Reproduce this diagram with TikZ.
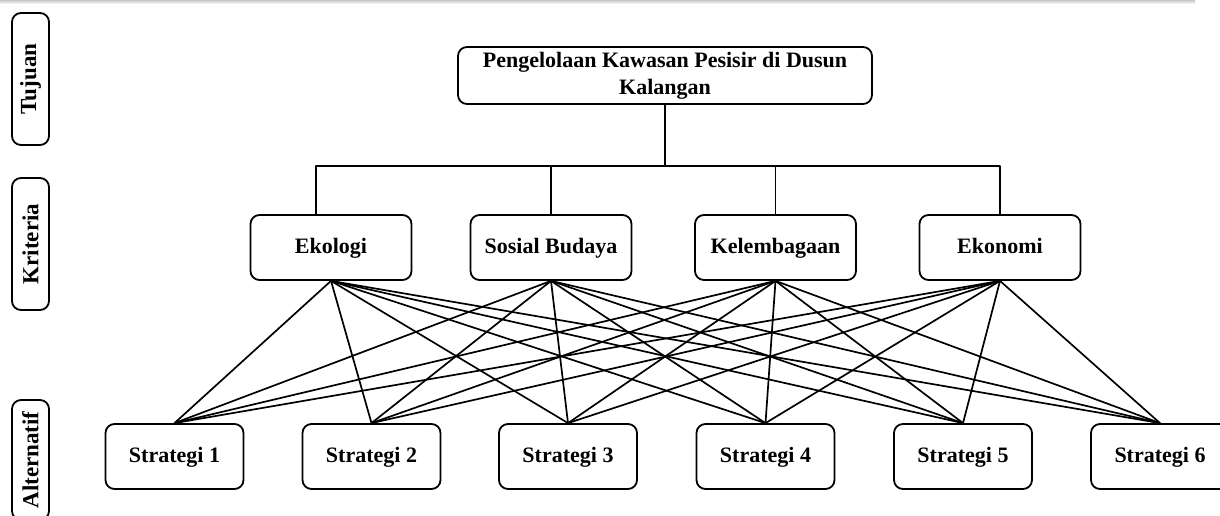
\documentclass[tikz,border=0pt]{standalone}
\usepackage{fontspec}
\setmainfont{Liberation Serif}
\usetikzlibrary{positioning}
\definecolor{shadowgrey}{gray}{0.78}
\newcommand{\hfont}{\fontsize{22}{27}\selectfont\bfseries}
\newcommand{\lvfont}{\fontsize{23}{27}\selectfont\bfseries}
\tikzset{
  hierarchy/.style={x=1pt, y=-1pt, line join=round},
  % a box of the hierarchy
  hbox/.style={draw=black, line width=1.8pt, rounded corners=9pt,
               align=center, font=\hfont, inner sep=2pt},
  % the goal on top
  goalbox/.style={hbox, minimum width=414pt, minimum height=57pt},
  % a criterion
  critbox/.style={hbox, minimum width=161pt, minimum height=65pt,
                  text height=16pt, text depth=5pt},
  % an alternative
  stratbox/.style={hbox, minimum width=138pt, minimum height=65pt,
                   text height=16pt, text depth=5pt},
  % the level name at the left edge, turned on its side
  levelbox/.style={hbox, font=\lvfont, rotate=90, minimum height=37pt},
  % a line of the tree
  link/.style={draw=black, line width=1.7pt},
}
\newcommand{\crit}[3]{\node[critbox] (#1) at (#2,247.5) {#3};}
\newcommand{\strat}[2]{\node[stratbox] (s#1) at (#2,456.5) {Strategi #1};}
\newcommand{\lvl}[4]{\node[levelbox, minimum width=#4] (#1) at (30.5,#2) {#3};}

\begin{document}
\begin{tikzpicture}[hierarchy]
  \useasboundingbox (0,0) rectangle (1220,516);
  % faint shadow along the top edge
  \shade[top color=shadowgrey, bottom color=white] (0,0) rectangle (1195,4);

  % level names
  \lvl{tuj}{79}{Tujuan}{132pt}
  \lvl{kri}{244}{Kriteria}{132pt}
  \lvl{alt}{460}{Alternatif}{120pt}

  % goal, criteria, alternatives
  \node[goalbox] (goal) at (665,75.5) {Pengelolaan Kawasan Pesisir di Dusun\\Kalangan};
  \crit{ekol}{331}{Ekologi}
  \crit{sos}{551}{Sosial Budaya}
  \crit{lem}{775.5}{Kelembagaan}
  \crit{eko}{1000}{Ekonomi}
  \strat{1}{174.5}
  \strat{2}{371.5}
  \strat{3}{568}
  \strat{4}{765.5}
  \strat{5}{963}
  \strat{6}{1160}

  % goal down to the criteria
  \coordinate (bar) at (665,166);
  \draw[link] (goal.south) -- (bar);
  \draw[link] ([xshift=-15pt]ekol.north) |- (bar) -| (eko.north);
  \draw[link] (sos.north) -- (sos.north |- bar);
  \draw[link] (lem.north) -- (lem.north |- bar);

  % every criterion to every alternative
  \foreach \k in {ekol,sos,lem,eko}
    \foreach \s in {1,...,6}
      \draw[link] (\k.south) -- (s\s.north);
\end{tikzpicture}
\end{document}
